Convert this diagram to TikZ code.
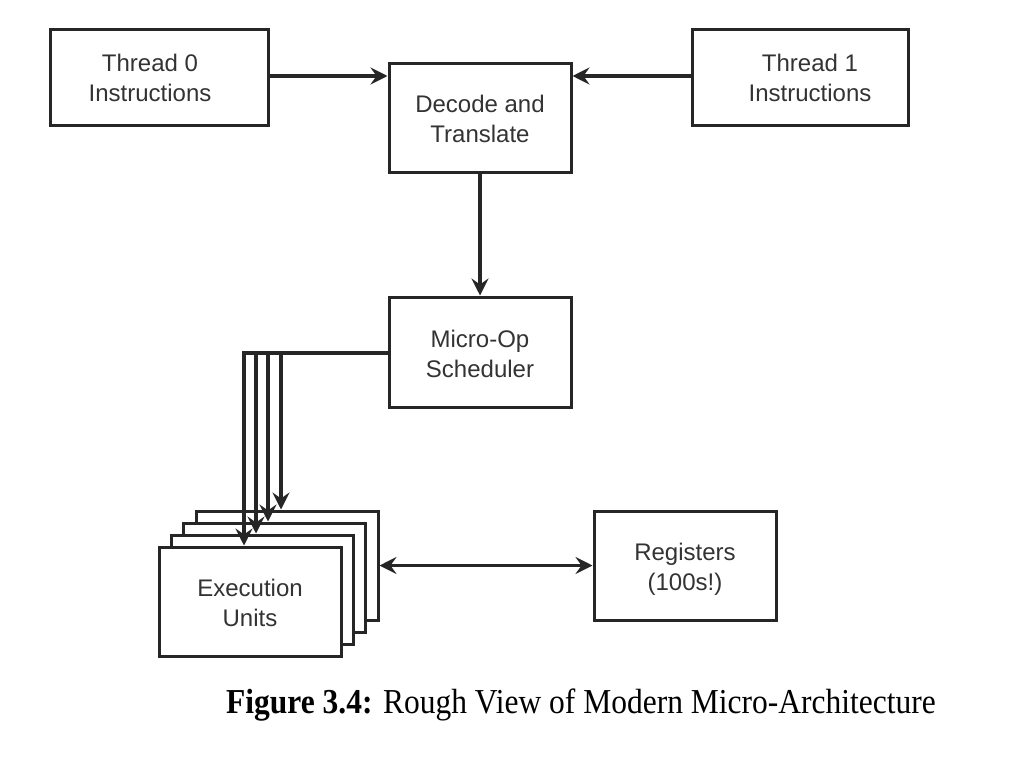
\documentclass[tikz,border=0pt]{standalone}
\usepackage{fontspec}
\setmainfont{Liberation Serif}
\setsansfont{Liberation Sans}
\usetikzlibrary{arrows.meta}
\begin{document}
\begin{tikzpicture}[x=1pt,y=-1pt,
  box/.style={draw=black!85,line width=3pt,fill=white,minimum width=182pt,minimum height=109pt,inner sep=0pt},
  lbl/.style={font=\sffamily\fontsize{24}{30}\selectfont,text=black!80,align=center,inner sep=0pt},
  arr/.style={draw=black!85,line width=3.2pt,-{Stealth[length=17pt,width=17pt,inset=6pt]}},
  arrb/.style={draw=black!85,line width=3.2pt,{Stealth[length=17pt,width=17pt,inset=6pt]}-{Stealth[length=17pt,width=17pt,inset=6pt]}}]
\useasboundingbox (0,0) rectangle (1024,757);
% top row
\node[box,minimum width=218pt,minimum height=95pt] (t0) at (159,77.5) {};
\node[lbl] (t0l) at (150,78) {Thread 0\\Instructions};
\node[box,minimum width=216pt,minimum height=95pt] (t1) at (800,77.5) {};
\node[lbl] (t1l) at (810,78) {Thread 1\\Instructions};
\node[box] (dec) at (480,118) {};
\node[lbl] (decl) at (480,119) {Decode and\\Translate};
\node[box,minimum height=110pt] (mu) at (480,352) {};
\node[lbl] (mul) at (480,354) {Micro-Op\\Scheduler};
% execution unit stack
\node[box] (e4) at (287,565.5) {};
\node[box] (e3) at (274,577.5) {};
\node[box] (e2) at (262,589.5) {};
\node[box] (e1) at (250,601.5) {};
\node[lbl] (e1l) at (250,603) {Execution\\Units};
\node[box] (reg) at (685,565.5) {};
\node[lbl] (regl) at (685,569) {Registers\\(100s!)};
% connectors
\draw[arr] (t0.east |- 0,76) -- (dec.west |- 0,76);
\draw[arr] (t1.west |- 0,76) -- (dec.east |- 0,76);
\draw[arr] (dec.south) -- (mu.north);
\draw[arr] (mu.west |- 0,353) -| ([xshift=-6pt]e1.north);
\draw[arr] ([xshift=-6pt]e2.north |- 0,353) -- ([xshift=-6pt]e2.north);
\draw[arr] ([xshift=-6pt]e3.north |- 0,353) -- ([xshift=-6pt]e3.north);
\draw[arr] ([xshift=-6pt]e4.north |- 0,353) -- ([xshift=-6pt]e4.north);
\draw[arrb] (e4.east) -- (reg.west);
% caption
\node[anchor=base west,inner sep=0pt,font=\fontsize{35}{40}\selectfont] (cap) at (226,713)
  {\scalebox{0.9}[1]{\textbf{Figure 3.4:} Rough View of Modern Micro-Architecture}};
\end{tikzpicture}
\end{document}
